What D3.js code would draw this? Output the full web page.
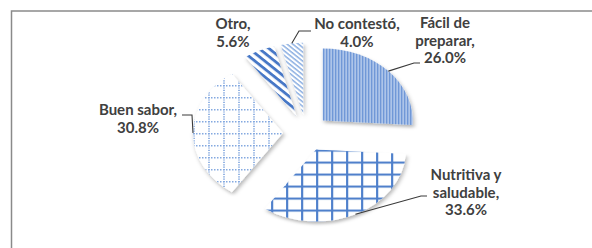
<!DOCTYPE html>
<html><head><meta charset="utf-8">
<script src="https://cdn.jsdelivr.net/npm/d3@7"></script>
<style>
html,body{margin:0;padding:0;background:#fff;}
svg{display:block;}
</style></head>
<body>
<svg id="chart" width="592" height="248"></svg>
<script>
// ---- data ----
const categories = ["Fácil de preparar", "Nutritiva y saludable", "Buen sabor", "Otro", "No contestó"];
const values = [26.0, 33.6, 30.8, 5.6, 4.0];
const labelLines = [["Fácil de", "preparar,"], ["Nutritiva y", "saludable,"], ["Buen sabor,"], ["Otro,"], ["No contestó,"]];

// ---- layout ----
const W = 592, H = 248;
const cx = 306, cy = 133, R = 90, explode = 23, ky = 0.8;
const patterns = ["pVert", "pGrid", "pDotGrid", "pWideDiag", "pNarrowDiag"];
// label block: center x, first baseline y; elbow points for leader
const labelPos = [
  {x: 445, y: 28, leader: [[414, 63], [420, 63]]},
  {x: 466, y: 180, leader: [[421, 196], [427, 196]]},
  {x: 138, y: 115, leader: [[192, 115], [182, 115]]},
  {x: 233, y: 29, leader: null},
  {x: 357, y: 29, leader: [[299, 31], [311, 31]]}
];
const lineH = 17.5;

const svg = d3.select("#chart");
const defs = svg.append("defs");

// drop shadow
const f = defs.append("filter").attr("id", "shadow").attr("x", "-20%").attr("y", "-20%").attr("width", "150%").attr("height", "150%");
f.append("feDropShadow").attr("dx", 1.5).attr("dy", 3).attr("stdDeviation", 2).attr("flood-color", "#000").attr("flood-opacity", 0.28);

// patterns
let p = defs.append("pattern").attr("id", "pVert").attr("patternUnits", "userSpaceOnUse").attr("width", 3).attr("height", 10);
p.append("rect").attr("width", 3).attr("height", 10).attr("fill", "#c2d4f0");
p.append("rect").attr("width", 1.6).attr("height", 10).attr("fill", "#6892d4");

p = defs.append("pattern").attr("id", "pGrid").attr("patternUnits", "userSpaceOnUse").attr("width", 15).attr("height", 15);
p.append("rect").attr("width", 15).attr("height", 15).attr("fill", "#fff");
p.append("rect").attr("x", 0).attr("width", 2.2).attr("height", 15).attr("fill", "#4f80cb");
p.append("rect").attr("y", 0).attr("width", 15).attr("height", 2.6).attr("fill", "#4f80cb");

p = defs.append("pattern").attr("id", "pDotGrid").attr("patternUnits", "userSpaceOnUse").attr("width", 15).attr("height", 15);
p.append("rect").attr("width", 15).attr("height", 15).attr("fill", "#fff");
p.append("line").attr("x1", 1).attr("x2", 1).attr("y1", 0).attr("y2", 15).attr("stroke", "#84a9e0").attr("stroke-width", 1.7).attr("stroke-dasharray", "1.5 1.5");
p.append("line").attr("x1", 0).attr("x2", 15).attr("y1", 1).attr("y2", 1).attr("stroke", "#84a9e0").attr("stroke-width", 2).attr("stroke-dasharray", "1.5 1.5");

p = defs.append("pattern").attr("id", "pWideDiag").attr("patternUnits", "userSpaceOnUse").attr("width", 7).attr("height", 7).attr("patternTransform", "rotate(45)");
p.append("rect").attr("width", 7).attr("height", 7).attr("fill", "#fff");
p.append("rect").attr("width", 7).attr("height", 3.2).attr("fill", "#4677c6");

p = defs.append("pattern").attr("id", "pNarrowDiag").attr("patternUnits", "userSpaceOnUse").attr("width", 4).attr("height", 4).attr("patternTransform", "rotate(45)");
p.append("rect").attr("width", 4).attr("height", 4).attr("fill", "#fff");
p.append("rect").attr("width", 4).attr("height", 1.7).attr("fill", "#8db0e2");

// frame
svg.append("rect").attr("x", 11.5).attr("y", 11).attr("width", 700).attr("height", 400)
  .attr("fill", "none").attr("stroke", "#8a8a8a").attr("stroke-width", 1.5);

// pie
const pie = d3.pie().sort(null).value(d => d)(values);
const arc = d3.arc().innerRadius(0).outerRadius(R);
const g = svg.append("g").attr("transform", `translate(${cx},${cy}) scale(1,${ky})`);
pie.forEach((s, i) => {
  const mid = (s.startAngle + s.endAngle) / 2;
  const ox = Math.sin(mid) * explode, oy = -Math.cos(mid) * explode;
  g.append("path")
    .attr("transform", `translate(${ox},${oy})`)
    .attr("d", arc(s))
    .attr("fill", `url(#${patterns[i]})`)
    .attr("filter", "url(#shadow)");
});

// labels + leaders
const fmt = d3.format(".1f");
pie.forEach((s, i) => {
  const mid = (s.startAngle + s.endAngle) / 2;
  const ox = Math.sin(mid) * explode, oy = -Math.cos(mid) * explode;
  const sx = cx + ox + Math.sin(mid) * R;
  const sy = cy + ky * (oy - Math.cos(mid) * R);
  const lp = labelPos[i];
  if (lp.leader) {
    const pts = [[sx, sy]].concat(lp.leader);
    svg.append("path").attr("d", d3.line()(pts)).attr("fill", "none")
      .attr("stroke", "#3a3a3a").attr("stroke-width", 1.1);
  }
  const lines = labelLines[i].concat([fmt(values[i]) + "%"]);
  const t = svg.append("text").attr("text-anchor", "middle")
    .attr("font-family", "Lato, 'Open Sans', sans-serif").attr("font-weight", "bold")
    .attr("font-size", 15).attr("fill", "#404040");
  lines.forEach((ln, j) => {
    t.append("tspan").attr("x", lp.x).attr("y", lp.y + j * lineH).text(ln);
  });
});
</script>
</body></html>
